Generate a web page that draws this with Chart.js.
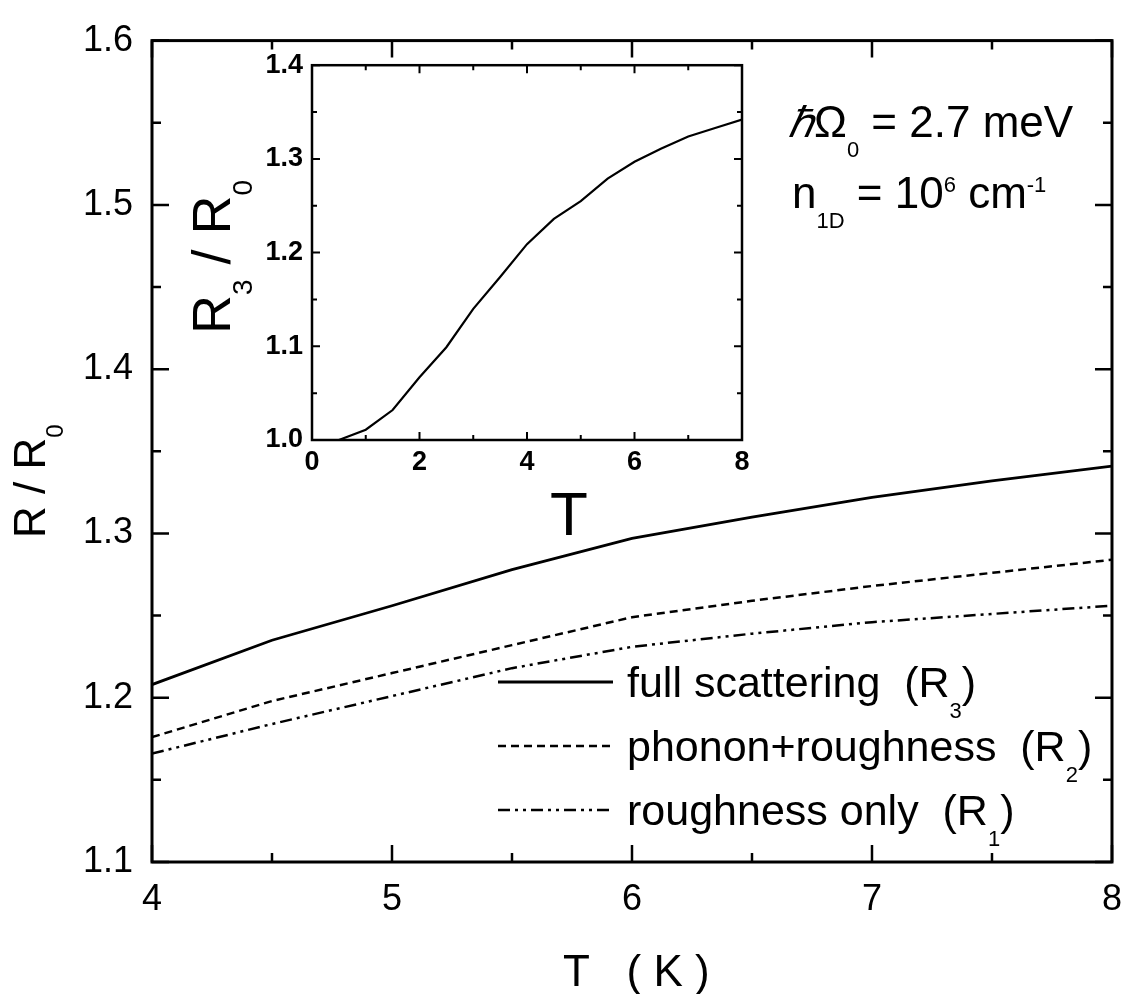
<!DOCTYPE html>
<html>
<head>
<meta charset="utf-8">
<script src="https://cdn.jsdelivr.net/npm/chart.js@4"></script>
<style>
html,body{margin:0;padding:0;background:#fff;}
#wrap{position:relative;width:1138px;height:994px;overflow:hidden;background:#fff;}
#main{position:absolute;left:0;top:0;}
#inset{position:absolute;left:170px;top:40px;}
</style>
</head>
<body>
<div id="wrap">
<canvas id="main" width="1138" height="994"></canvas>
<canvas id="inset" width="600" height="530"></canvas>
</div>
<script>
// ---- data ----
const T_main = [4, 4.5, 5, 5.5, 6, 6.5, 7, 7.5, 8];
const R3_full = [1.208, 1.235, 1.256, 1.278, 1.297, 1.310, 1.322, 1.332, 1.341];
const R2_phonon = [1.176, 1.198, 1.215, 1.232, 1.249, 1.259, 1.268, 1.276, 1.284];
const R1_rough = [1.166, 1.184, 1.201, 1.218, 1.231, 1.239, 1.246, 1.251, 1.256];

const T_inset = [0, 0.5, 1, 1.5, 2, 2.5, 3, 3.5, 4, 4.5, 5, 5.5, 6, 6.5, 7, 7.5, 8];
const R3_inset = [1.000, 1.000, 1.011, 1.032, 1.067, 1.099, 1.140, 1.174, 1.209, 1.236, 1.255, 1.279, 1.297, 1.311, 1.324, 1.333, 1.342];

const mainXMajor = [4, 5, 6, 7, 8];
const mainXMinor = [4.5, 5.5, 6.5, 7.5];
const mainYMajor = [1.1, 1.2, 1.3, 1.4, 1.5, 1.6];
const mainYMinor = [1.15, 1.25, 1.35, 1.45, 1.55];
const insetXMajor = [0, 2, 4, 6, 8];
const insetXMinor = [1, 3, 5, 7];
const insetYMajor = [1.0, 1.1, 1.2, 1.3, 1.4];
const insetYMinor = [1.05, 1.15, 1.25, 1.35];

const legendLabels = ['full scattering  (R', 'phonon+roughness  (R', 'roughness only  (R'];
const legendSubs = ['3', '2', '1'];

const FONT = '"Liberation Sans", Arial, Helvetica, sans-serif';
const DASH_R2 = [8, 5];
const DASH_R1 = [12, 5, 3, 5, 3, 5];

function pts(xs, ys) { return xs.map((x, i) => ({x: x, y: ys[i]})); }

function drawRich(ctx, x, y, segs) {
  let cx = x;
  for (const s of segs) {
    ctx.font = (s.st || '') + ' ' + s.size + 'px ' + FONT;
    ctx.fillText(s.t, cx, y + (s.dy || 0));
    cx += ctx.measureText(s.t).width;
  }
  return cx - x;
}

function framePlugin(opts) {
  return {
    id: 'frame_' + opts.name,
    afterDraw(chart) {
      const ctx = chart.ctx, a = chart.chartArea;
      const xs = chart.scales.x, ys = chart.scales.y;
      ctx.save();
      ctx.strokeStyle = '#000';
      ctx.lineWidth = opts.frameW;
      ctx.strokeRect(a.left, a.top, a.right - a.left, a.bottom - a.top);
      ctx.lineWidth = opts.tickW;
      ctx.beginPath();
      const tx = (vals, len) => vals.forEach(v => {
        const p = xs.getPixelForValue(v);
        ctx.moveTo(p, a.bottom); ctx.lineTo(p, a.bottom - len);
        ctx.moveTo(p, a.top); ctx.lineTo(p, a.top + len);
      });
      const ty = (vals, len) => vals.forEach(v => {
        const p = ys.getPixelForValue(v);
        ctx.moveTo(a.left, p); ctx.lineTo(a.left + len, p);
        ctx.moveTo(a.right, p); ctx.lineTo(a.right - len, p);
      });
      tx(opts.xMajor, opts.major); tx(opts.xMinor, opts.minor);
      ty(opts.yMajor, opts.major); ty(opts.yMinor, opts.minor);
      ctx.stroke();
      ctx.restore();
    }
  };
}

// force the plot area onto the target rectangle by adjusting layout padding
function fitArea(chart, target) {
  const pad = {left: 0, top: 0, right: 0, bottom: 0};
  for (let k = 0; k < 4; k++) {
    const a = chart.chartArea;
    pad.top = Math.max(0, pad.top + (target.top - a.top));
    pad.right = Math.max(0, pad.right + (a.right - target.right));
    pad.bottom = Math.max(0, pad.bottom + (a.bottom - target.bottom));
    pad.left = Math.max(0, pad.left + (target.left - a.left));
    chart.options.layout.padding = Object.assign({}, pad);
    chart.update('none');
  }
}

// ---- main chart text (titles, legend, annotation) ----
const mainText = {
  id: 'mainText',
  afterDraw(chart) {
    const ctx = chart.ctx;
    ctx.save();
    ctx.fillStyle = '#000';
    ctx.textBaseline = 'alphabetic';
    ctx.textAlign = 'left';
    ctx.save();
    ctx.translate(45, 538);
    ctx.rotate(-Math.PI / 2);
    drawRich(ctx, 0, 0, [{t: 'R / R', size: 44}, {t: '0', size: 24, dy: 18}]);
    ctx.restore();
    ctx.font = '44px ' + FONT;
    ctx.fillText('T   ( K )', 563, 986);
    drawRich(ctx, 788, 137, [{t: '\u210F', size: 42, st: 'italic'}, {t: '\u03A9', size: 44}, {t: '0', size: 22, dy: 20}, {t: ' = 2.7 meV', size: 44}]);
    drawRich(ctx, 792, 208, [{t: 'n', size: 44}, {t: '1D', size: 22, dy: 20}, {t: ' = 10', size: 44}, {t: '6', size: 22, dy: -16}, {t: ' cm', size: 44}, {t: '-1', size: 22, dy: -16}]);
    const styles = [
      {dash: [], w: 2.8},
      {dash: DASH_R2, w: 2.5},
      {dash: DASH_R1, w: 2.5}
    ];
    const base = [697, 761, 825];
    for (let i = 0; i < 3; i++) {
      ctx.save();
      ctx.strokeStyle = '#000';
      ctx.lineWidth = styles[i].w;
      ctx.setLineDash(styles[i].dash);
      ctx.beginPath();
      ctx.moveTo(498, base[i] - 15);
      ctx.lineTo(613, base[i] - 15);
      ctx.stroke();
      ctx.restore();
      drawRich(ctx, 627, base[i], [{t: legendLabels[i], size: 43}, {t: legendSubs[i], size: 22, dy: 21}, {t: ')', size: 43}]);
    }
    ctx.restore();
  }
};

const mainChart = new Chart(document.getElementById('main'), {
  type: 'line',
  data: {
    datasets: [
      {label: 'full scattering (R3)', data: pts(T_main, R3_full), borderColor: '#000', borderWidth: 2.8, pointRadius: 0, tension: 0},
      {label: 'phonon+roughness (R2)', data: pts(T_main, R2_phonon), borderColor: '#000', borderWidth: 2.5, borderDash: DASH_R2, pointRadius: 0, tension: 0},
      {label: 'roughness only (R1)', data: pts(T_main, R1_rough), borderColor: '#000', borderWidth: 2.5, borderDash: DASH_R1, pointRadius: 0, tension: 0}
    ]
  },
  options: {
    responsive: false,
    animation: false,
    devicePixelRatio: 1,
    layout: {padding: {left: 0, top: 0, right: 0, bottom: 0}},
    plugins: {legend: {display: false}, tooltip: {enabled: false}},
    scales: {
      x: {
        type: 'linear', min: 4, max: 8,
        grid: {display: false, drawTicks: false},
        border: {display: false},
        ticks: {stepSize: 1, color: '#000', font: {family: FONT, size: 36}, padding: 16, maxRotation: 0},
        afterFit: s => { s.height = 132; }
      },
      y: {
        type: 'linear', min: 1.1, max: 1.6,
        grid: {display: false, drawTicks: false},
        border: {display: false},
        ticks: {stepSize: 0.1, color: '#000', font: {family: FONT, size: 36}, padding: 19, callback: v => v.toFixed(1)},
        afterFit: s => { s.width = 152; }
      }
    }
  },
  plugins: [framePlugin({name: 'main', frameW: 3, tickW: 2.5, major: 17, minor: 9,
    xMajor: mainXMajor, xMinor: mainXMinor, yMajor: mainYMajor, yMinor: mainYMinor}), mainText]
});
fitArea(mainChart, {left: 152, top: 29, right: 1123, bottom: 862});

// ---- inset ----
const insetText = {
  id: 'insetText',
  afterDraw(chart) {
    const ctx = chart.ctx;
    ctx.save();
    ctx.fillStyle = '#000';
    ctx.textBaseline = 'alphabetic';
    ctx.save();
    ctx.translate(60, 294);
    ctx.rotate(-Math.PI / 2);
    drawRich(ctx, 0, 0, [{t: 'R', size: 54}, {t: '3', size: 28, dy: 22}, {t: ' / R', size: 54}, {t: '0', size: 28, dy: 22}]);
    ctx.restore();
    ctx.font = '62px ' + FONT;
    ctx.textAlign = 'center';
    ctx.fillText('T', 399, 495);
    ctx.restore();
  }
};

const insetChart = new Chart(document.getElementById('inset'), {
  type: 'line',
  data: {
    datasets: [
      {label: 'R3/R0', data: pts(T_inset, R3_inset), borderColor: '#000', borderWidth: 2.2, pointRadius: 0, tension: 0}
    ]
  },
  options: {
    responsive: false,
    animation: false,
    devicePixelRatio: 1,
    layout: {padding: {left: 0, top: 0, right: 0, bottom: 0}},
    plugins: {legend: {display: false}, tooltip: {enabled: false}},
    scales: {
      x: {
        type: 'linear', min: 0, max: 8,
        grid: {display: false, drawTicks: false},
        border: {display: false},
        ticks: {stepSize: 2, color: '#000', font: {family: FONT, size: 27, weight: 'bold'}, padding: 6, maxRotation: 0},
        afterFit: s => { s.height = 130; }
      },
      y: {
        type: 'linear', min: 1.0, max: 1.4,
        grid: {display: false, drawTicks: false},
        border: {display: false},
        ticks: {stepSize: 0.1, color: '#000', font: {family: FONT, size: 27, weight: 'bold'}, padding: 9, callback: v => v.toFixed(1)},
        afterFit: s => { s.width = 142; }
      }
    }
  },
  plugins: [framePlugin({name: 'inset', frameW: 2.5, tickW: 2, major: 8, minor: 5,
    xMajor: insetXMajor, xMinor: insetXMinor, yMajor: insetYMajor, yMinor: insetYMinor}), insetText]
});
fitArea(insetChart, {left: 142, top: 30, right: 572, bottom: 400});
</script>
</body>
</html>
